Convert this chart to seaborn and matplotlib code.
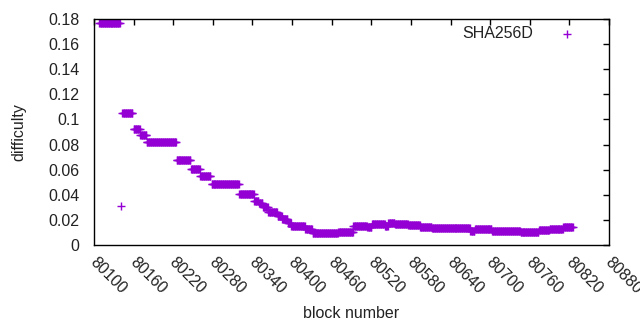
import numpy as np
import pandas as pd
import seaborn as sns
import matplotlib.pyplot as plt
import matplotlib.transforms as mtransforms
from matplotlib.ticker import FuncFormatter

# Difficulty steps: first block, last block, level
seg_start = [80108, 80141, 80143, 80160, 80170, 80180, 80225, 80247, 80261, 80278,
             80320, 80343, 80350, 80356, 80364, 80378, 80385, 80394, 80399, 80420,
             80431, 80455, 80470, 80493, 80514, 80521, 80541, 80546, 80556, 80576,
             80594, 80612, 80670, 80677, 80703, 80746, 80774, 80790, 80811]
seg_end = [80139, 80141, 80158, 80169, 80179, 80224, 80246, 80260, 80276, 80319,
           80342, 80349, 80355, 80363, 80377, 80384, 80393, 80398, 80419, 80430,
           80454, 80469, 80492, 80513, 80520, 80540, 80545, 80555, 80575, 80593,
           80611, 80669, 80676, 80702, 80745, 80773, 80789, 80810, 80825]
seg_level = [0.1766, 0.031, 0.105, 0.092, 0.088, 0.082, 0.068, 0.0603, 0.0547, 0.0489,
             0.0404, 0.0353, 0.0332, 0.0305, 0.026, 0.0234, 0.0207, 0.0173, 0.0151, 0.0125,
             0.0093, 0.0093, 0.0101, 0.0151, 0.014, 0.0165, 0.015, 0.0173, 0.0165, 0.0157,
             0.0146, 0.0133, 0.0114, 0.0125, 0.0109, 0.0104, 0.0119, 0.0125, 0.0146]

x_ticks = list(range(80100, 80881, 60))
y_ticks = [0, 0.02, 0.04, 0.06, 0.08, 0.1, 0.12, 0.14, 0.16, 0.18]

# one point per block
blocks, diffs = [], []
for s, e, d in zip(seg_start, seg_end, seg_level):
    b = np.arange(s, e + 1)
    blocks.extend(b)
    diffs.extend([d] * len(b))
df = pd.DataFrame({'block': blocks, 'difficulty': diffs})

sns.set_style('white')
plt.rcParams['font.family'] = ['Liberation Sans', 'DejaVu Sans']
plt.rcParams['font.size'] = 11.5

fig = plt.figure(figsize=(6.4, 3.3), dpi=100)
ax = fig.add_axes([94 / 640, 1 - 245 / 330, 515 / 640, 226 / 330])

sns.scatterplot(data=df, x='block', y='difficulty', marker='+', s=30,
                color='#9400d3', linewidth=1, label='SHA256D', ax=ax)

ax.set_xlim(80100, 80880)
ax.set_ylim(0, 0.18)
ax.set_xticks(x_ticks)
ax.set_yticks(y_ticks)
ax.yaxis.set_major_formatter(FuncFormatter(lambda v, p: f'{v:g}'))
ax.tick_params(direction='in', length=4, width=1, color='black',
               top=True, right=True, labelsize=11.5, colors='#222222')
ax.tick_params(axis='x', pad=7)
ax.tick_params(axis='y', pad=10.5)
shift = mtransforms.ScaledTranslation(4 / 100, 0, fig.dpi_scale_trans)
for lbl in ax.get_xticklabels():
    lbl.set_rotation(-45)
    lbl.set_ha('left')
    lbl.set_va('top')
    lbl.set_rotation_mode('anchor')
    lbl.set_transform(lbl.get_transform() + shift)
for sp in ax.spines.values():
    sp.set_visible(True)
    sp.set_color('black')
    sp.set_linewidth(1)

ax.set_xlabel('block number', fontsize=11.5, color='#222222')
ax.set_ylabel('difficulty', fontsize=11.5, color='#222222')
ax.xaxis.set_label_coords(0.5, -0.272)
ax.yaxis.set_label_coords(-68 / 515, 0.5)

ax.legend(loc='upper right', frameon=False, markerfirst=False,
          bbox_to_anchor=(1 - 23 / 515, 1 + 4 / 226),
          handlelength=1.0, handletextpad=1.6, borderaxespad=0.3,
          fontsize=11.5, labelcolor='#222222')

fig.savefig('out.png', dpi=100)
